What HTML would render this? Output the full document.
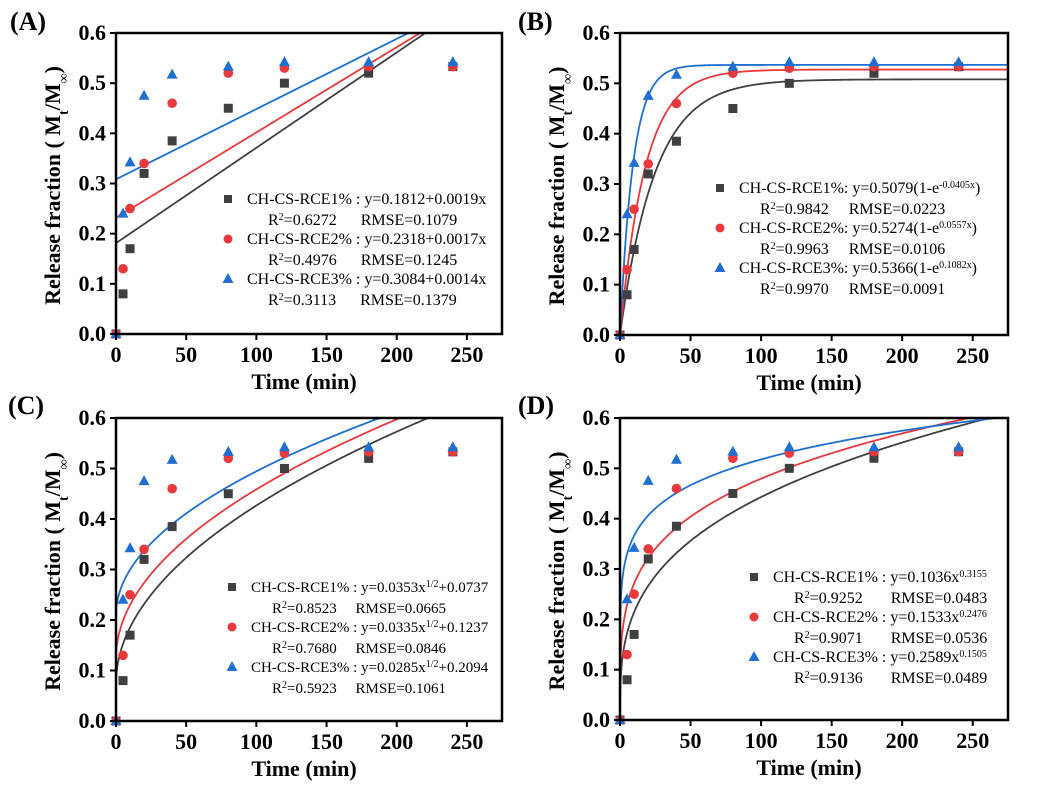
<!DOCTYPE html>
<html><head><meta charset="utf-8"><style>
body{margin:0;background:#fff}
svg{display:block;font-family:"Liberation Serif",serif}
.tk{font-weight:bold;font-size:22px}
.ti{font-weight:bold;font-size:22px}
.lg{font-size:16px}
</style></head><body>
<svg id="s" width="1046" height="790" viewBox="0 0 1046 790"></svg>
<script>
const times=[0,5,10,20,40,80,120,180,240];
const rce1=[0,0.08,0.17,0.32,0.385,0.45,0.5,0.52,0.533];
const rce2=[0,0.13,0.25,0.34,0.46,0.52,0.53,0.533,0.533];
const rce3=[0,0.24,0.342,0.475,0.517,0.533,0.542,0.542,0.542];
const xTicks=[0,50,100,150,200,250];
const yTicks=[0.0,0.1,0.2,0.3,0.4,0.5,0.6];
const colors=['#404040','#e8393c','#1f6fd1'];
const linA=[[0.1812,0.0019],[0.2318,0.0017],[0.3084,0.0014]];
const expB=[[0.5079,0.0405],[0.5274,0.0557],[0.5366,0.1082]];
const sqrtC=[[0.0353,0.0737],[0.0335,0.1237],[0.0285,0.2094]];
const powD=[[0.1036,0.3155],[0.1533,0.2476],[0.2589,0.1505]];
const SUP=s=>"<tspan baseline-shift='super' font-size='10'>"+s+"</tspan>";
const legA=[["CH-CS-RCE1% : y=0.1812+0.0019x","R"+SUP(2)+"=0.6272      RMSE=0.1079"],["CH-CS-RCE2% : y=0.2318+0.0017x","R"+SUP(2)+"=0.4976      RMSE=0.1245"],["CH-CS-RCE3% : y=0.3084+0.0014x","R"+SUP(2)+"=0.3113      RMSE=0.1379"]];
const legB=[["CH-CS-RCE1%: y=0.5079(1-e"+SUP("-0.0405x")+")","R"+SUP(2)+"=0.9842     RMSE=0.0223"],["CH-CS-RCE2%: y=0.5274(1-e"+SUP("0.0557x")+")","R"+SUP(2)+"=0.9963     RMSE=0.0106"],["CH-CS-RCE3%: y=0.5366(1-e"+SUP("0.1082x")+")","R"+SUP(2)+"=0.9970     RMSE=0.0091"]];
const legC=[["CH-CS-RCE1% : y=0.0353x"+SUP("1/2")+"+0.0737","R"+SUP(2)+"=0.8523     RMSE=0.0665"],["CH-CS-RCE2% : y=0.0335x"+SUP("1/2")+"+0.1237","R"+SUP(2)+"=0.7680     RMSE=0.0846"],["CH-CS-RCE3% : y=0.0285x"+SUP("1/2")+"+0.2094","R"+SUP(2)+"=0.5923     RMSE=0.1061"]];
const legD=[["CH-CS-RCE1% : y=0.1036x"+SUP("0.3155"),"R"+SUP(2)+"=0.9252       RMSE=0.0483"],["CH-CS-RCE2% : y=0.1533x"+SUP("0.2476"),"R"+SUP(2)+"=0.9071       RMSE=0.0536"],["CH-CS-RCE3% : y=0.2589x"+SUP("0.1505"),"R"+SUP(2)+"=0.9136       RMSE=0.0489"]];
const S=document.getElementById('s');
const NS='http://www.w3.org/2000/svg';
function mk(tag,at,parent,html){const e=document.createElementNS(NS,tag);for(const k in at)e.setAttribute(k,at[k]);if(html!==undefined)e.innerHTML=html;(parent||S).appendChild(e);return e;}
const panels=[
 {id:'a',lab:'(A)',x0:116,x1:502,y0:33,y1:334,lx:10,ly:30,fn:(p,t)=>p[0]+p[1]*t,par:linA,leg:legA,legX:228,legY:204,fs:16},
 {id:'b',lab:'(B)',x0:620,x1:1008,y0:33,y1:335,lx:518,ly:30,fn:(p,t)=>p[0]*(1-Math.exp(-p[1]*t)),par:expB,leg:legB,legX:720,legY:193,fs:16},
 {id:'c',lab:'(C)',x0:116,x1:502,y0:418,y1:721,lx:8,ly:414,fn:(p,t)=>p[0]*Math.sqrt(t)+p[1],par:sqrtC,leg:legC,legX:232,legY:592,fs:15},
 {id:'d',lab:'(D)',x0:620,x1:1008,y0:418,y1:720,lx:518,ly:414,fn:(p,t)=>p[0]*Math.pow(t,p[1]),par:powD,leg:legD,legX:754,legY:582,fs:16}
];
const series=[rce1,rce2,rce3];
panels.forEach(P=>{
 const g=mk('g',{});
 
 
 const X=t=>P.x0+(t/275)*(P.x1-P.x0);
 const Y=v=>P.y1-(v/0.6)*(P.y1-P.y0);
 const pl=mk('text',{x:P.lx,y:P.ly,'font-size':26,'font-weight':'bold'},g,P.lab);
 
 
 mk('clipPath',{id:'cp'+P.id},g);
 mk('rect',{x:P.x0,y:P.y0,width:P.x1-P.x0,height:P.y1-P.y0},g.lastChild);
 P.par.forEach((p,i)=>{let d='';for(let t=(P.id==='d'?0.01:0);t<=275;t+=(t<20?0.25:1)){const v=P.fn(p,t);d+=(d?'L':'M')+X(t).toFixed(2)+','+Y(v).toFixed(2);}
  const l=mk('path',{d:d,fill:'none',stroke:colors[i],'stroke-width':1.8,'clip-path':'url(#cp'+P.id+')'},g);
  
  });
 series.forEach((s,i)=>{s.forEach((v,j)=>{const cx=X(times[j]),cy=Y(v);let m;
  if(i===0)m=mk('rect',{x:cx-4.5,y:cy-4.5,width:9,height:9,fill:colors[0]},g);
  else if(i===1)m=mk('circle',{cx:cx,cy:cy,r:4.8,fill:colors[1]},g);
  else m=mk('path',{d:`M${cx},${cy-6}L${cx+5.5},${cy+4}L${cx-5.5},${cy+4}Z`,fill:colors[2]},g);
  
  });});
 const fr=mk('rect',{x:P.x0,y:P.y0,width:P.x1-P.x0,height:P.y1-P.y0,fill:'none',stroke:'#000','stroke-width':2.5},g);
 
 
 xTicks.forEach(t=>{mk('line',{x1:X(t),x2:X(t),y1:P.y1,y2:P.y1+6,stroke:'#000','stroke-width':2},g);
  const tl=mk('text',{x:X(t),y:P.y1+28,'text-anchor':'middle',class:'tk'},g,t);
  
  });
 yTicks.forEach(v=>{mk('line',{x1:P.x0-6,x2:P.x0,y1:Y(v),y2:Y(v),stroke:'#000','stroke-width':2},g);
  const tl=mk('text',{x:P.x0-10,y:Y(v)+7,'text-anchor':'end',class:'tk'},g,v.toFixed(1));
  
  });
 const xt=mk('text',{x:(P.x0+P.x1)/2-5,y:P.y1+55,'text-anchor':'middle',class:'ti'},g,'Time (min)');
 
 
 const yc=P.x0-56,ym=(P.y0+P.y1)/2+2;
 const yt=mk('text',{x:yc,y:ym,transform:`rotate(-90 ${yc} ${ym})`,'text-anchor':'middle',class:'ti'},g,'Release fraction ( M<tspan baseline-shift="sub" font-size="14">t</tspan>/M<tspan baseline-shift="sub" font-size="14">∞</tspan>)');
 
 
 P.leg.forEach((L,i)=>{const y=P.legY+i*40;const mx=P.legX;
  let m;if(i===0)m=mk('rect',{x:mx-4,y:y-9,width:8,height:8,fill:colors[0]},g);
  else if(i===1)m=mk('circle',{cx:mx,cy:y-5,r:4.5,fill:colors[1]},g);
  else m=mk('path',{d:`M${mx},${y-11}L${mx+5.5},${y-1}L${mx-5.5},${y-1}Z`,fill:colors[2]},g);
  
  
  const t1=mk('text',{x:mx+19,y:y,class:'lg','font-size':P.fs},g,L[0]);
  t1.setAttribute('style','font-size:'+P.fs+'px');
  
  
  const t2=mk('text',{x:mx+40,y:y+21,class:'lg'},g,L[1]);
  t2.setAttribute('style','white-space:pre;font-size:'+P.fs+'px');
  
  });
});
</script>
</body></html>
